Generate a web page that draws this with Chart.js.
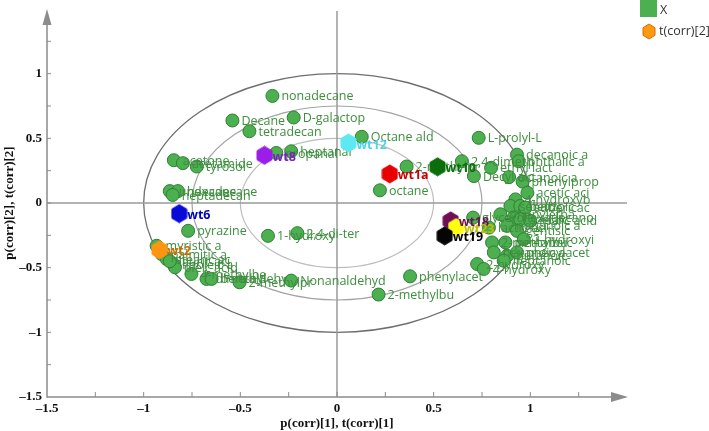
<!DOCTYPE html>
<html lang="en">
  <head>
    <meta charset="UTF-8" />
    <title>OPLS biplot</title>
    <style>
      html, body { margin: 0; padding: 0; background: #fff; }
      #wrap { width: 709px; height: 431px; }
    </style>
  </head>
  <body>
    <div id="wrap"><canvas id="biplot" width="709" height="431"></canvas></div>

    <script src="https://cdn.jsdelivr.net/npm/chart.js"></script>
    <script>
      // variables (green circles), p(corr)[1] / p(corr)[2]
      const varNames = [
        'nonadecane', 'Decane', 'D-galactop', 'tetradecan', 'Octane ald', 'L-prolyl-L',
        'propanal', 'heptanal', 'acetone', 'acetamide', 'tyrosol',
        'undecane', 'hexadecane', 'heptadecan', 'pyrazine', '1-hydroxy', '2,4-di-ter',
        'octane', '2-methylpr', '2,4-dimeth', 'Decyl alc', 'phenylacet', '2-methylbu', 'glycerol',
        'decanoic a', 'phthalic a', 'ethyl lact', 'octanoic a', 'phenylprop', 'acetic aci',
        '4-hydroxyb', 'sebacic', 'benzoic', 'subericac', 'phenyletha', 'hexadecano',
        'azelaic', 'malic acid', 'nonanoic a', 'gentisic', 'lactic aci', '2-methylbu',
        'pentanoic', '2-hydroxyi', 'hexanoic a', 'butanoic', 'phenylacet', 'heptanoic',
        '2-hydroxy', '4-hydroxy',
        'myristic a', 'palmitic a', 'stearic ac', 'linoleic a', 'oleic acid', 'lauric aci',
        '4-methylbe', 'dimethyl', 'benzaldehy', '2-methylpr', 'Nonanaldehyd'
      ];
      const varX = [
        -0.334, -0.541, -0.224, -0.453, 0.128, 0.733,
        -0.314, -0.237, -0.844, -0.797, -0.725,
        -0.865, -0.823, -0.85, -0.77, -0.357, -0.205,
        0.222, 0.36, 0.646, 0.708, 0.378, 0.215, 0.704,
        0.931, 0.94, 0.797, 0.89, 0.96, 0.985,
        0.923, 0.897, 0.948, 0.974, 0.845, 0.914,
        0.948, 1.0, 0.88, 0.931, 0.786, 0.802,
        0.871, 0.966, 0.811, 0.88, 0.931, 0.862,
        0.725, 0.759,
        -0.933, -0.907, -0.881, -0.847, -0.838, -0.865,
        -0.753, -0.675, -0.649, -0.504, -0.237
      ];
      const varY = [
        0.828, 0.638, 0.661, 0.555, 0.512, 0.504,
        0.387, 0.4, 0.331, 0.308, 0.282,
        0.092, 0.092, 0.062, -0.215, -0.254, -0.233,
        0.098, 0.282, 0.323, 0.208, -0.567, -0.708, -0.113,
        0.374, 0.323, 0.272, 0.2, 0.165, 0.079,
        0.028, -0.023, -0.023, -0.036, -0.087, -0.113,
        -0.126, -0.138, -0.177, -0.215, -0.19, -0.305,
        -0.305, -0.28, -0.382, -0.408, -0.382, -0.446,
        -0.472, -0.51,
        -0.331, -0.395, -0.433, -0.472, -0.497, -0.45,
        -0.549, -0.587, -0.587, -0.613, -0.6
      ];

      // observations (hexagons), t(corr)[1] / t(corr)[2]
      const sampleNames = ['wt8', 'wt12', 'wt1a', 'wt10', 'wt6', 'wt2', 'wt18', 'wt23', 'wt19'];
      const sampleX = [-0.375, 0.059, 0.273, 0.52, -0.816, -0.918, 0.588, 0.616, 0.557];
      const sampleY = [0.369, 0.464, 0.225, 0.28, -0.082, -0.362, -0.138, -0.19, -0.254];

      // styling per observation
      const sampleFill = ['#9a1ee8', '#5ee8f2', '#e80000', '#0b6e0b', '#0a0ad8', '#ff9410', '#6e0f55', '#ffff10', '#050505'];
      const sampleText = ['#7d1fc4', '#4fd2e6', '#c80000', '#0b6e0b', '#0000c0', '#c86e00', '#6e0f55', '#c0c000', '#000000'];

      const GREEN_TEXT = '#3e8e3e';
      const LABEL_FONT = '12.5px "Open Sans", "Noto Sans", sans-serif';
      const AXIS_FONT = { family: '"Liberation Serif", "DejaVu Serif", serif', size: 13, weight: 'bold' };

      function hexCanvas(fill, stroke, w, h) {
        const c = document.createElement('canvas');
        c.width = w + 2;
        c.height = h + 2;
        const g = c.getContext('2d');
        const cx = c.width / 2, cy = c.height / 2;
        g.beginPath();
        for (let k = 0; k < 6; k++) {
          const a = -Math.PI / 2 + k * Math.PI / 3;
          const px = cx + (w / 2) * Math.cos(a) / Math.cos(Math.PI / 6);
          const py = cy + (h / 2) * Math.sin(a);
          if (k === 0) g.moveTo(Math.min(Math.max(px, 1), w + 1), py);
          else g.lineTo(Math.min(Math.max(px, 1), w + 1), py);
        }
        g.closePath();
        g.fillStyle = fill;
        g.fill();
        g.strokeStyle = stroke;
        g.lineWidth = 1;
        g.stroke();
        return c;
      }

      const hexStyles = sampleFill.map((f) => hexCanvas(f, f, 15, 18));

      const frame = {
        id: 'frame',
        beforeDatasetsDraw(chart) {
          const { ctx, chartArea: a } = chart;
          const xs = chart.scales.x, ys = chart.scales.y;
          const x0 = xs.getPixelForValue(0), y0 = ys.getPixelForValue(0);
          ctx.save();
          // correlation ellipses r = 1, 0.75, 0.5
          [[1, '#6e6e6e', 1.3], [0.75, '#a3a3a3', 1.2], [0.5, '#bdbdbd', 1.2]].forEach(([r, col, lw]) => {
            const rx = xs.getPixelForValue(r) - x0;
            const ry = y0 - ys.getPixelForValue(r);
            ctx.beginPath();
            ctx.ellipse(x0, y0, rx, ry, 0, 0, Math.PI * 2);
            ctx.strokeStyle = col;
            ctx.lineWidth = lw;
            ctx.stroke();
          });
          // centre lines
          ctx.strokeStyle = '#9a9a9a';
          ctx.lineWidth = 1.5;
          ctx.beginPath();
          ctx.moveTo(x0, a.bottom);
          ctx.lineTo(x0, a.top + 2);
          ctx.moveTo(a.left, y0);
          ctx.lineTo(a.right, y0);
          ctx.stroke();
          // main axes with arrows
          ctx.strokeStyle = '#8c8c8c';
          ctx.fillStyle = '#8c8c8c';
          ctx.lineWidth = 1.5;
          ctx.beginPath();
          ctx.moveTo(a.left, a.top + 14);
          ctx.lineTo(a.left, a.bottom);
          ctx.lineTo(a.right - 15, a.bottom);
          ctx.stroke();
          ctx.beginPath();
          ctx.moveTo(a.left, a.top);
          ctx.lineTo(a.left - 4.5, a.top + 16);
          ctx.lineTo(a.left + 4.5, a.top + 16);
          ctx.closePath();
          ctx.fill();
          ctx.beginPath();
          ctx.moveTo(a.right + 1, a.bottom);
          ctx.lineTo(a.right - 16, a.bottom - 5);
          ctx.lineTo(a.right - 16, a.bottom + 5);
          ctx.closePath();
          ctx.fill();
          // inward ticks
          ctx.lineWidth = 1;
          ctx.beginPath();
          for (let v = -1.25; v < 1.4; v += 0.25) {
            const px = xs.getPixelForValue(v);
            ctx.moveTo(px, a.bottom);
            ctx.lineTo(px, a.bottom - 5);
            const py = ys.getPixelForValue(v);
            ctx.moveTo(a.left, py);
            ctx.lineTo(a.left + 4, py);
          }
          ctx.stroke();
          ctx.restore();
        },
        afterDatasetDraw(chart, args) {
          const { ctx } = chart;
          const meta = args.meta;
          const ds = chart.data.datasets[args.index];
          ctx.save();
          ctx.textBaseline = 'middle';
          ctx.textAlign = 'left';
          meta.data.forEach((pt, i) => {
            if (ds.kind === 'var') {
              ctx.font = LABEL_FONT;
              ctx.fillStyle = GREEN_TEXT;
              ctx.fillText(varNames[i], pt.x + 9, pt.y + 1);
            } else {
              ctx.font = 'bold ' + LABEL_FONT;
              ctx.fillStyle = sampleText[i];
              ctx.fillText(sampleNames[i], pt.x + 8, pt.y + 2);
            }
          });
          ctx.restore();
        },
        afterDraw(chart) {
          const { ctx } = chart;
          ctx.save();
          ctx.fillStyle = '#4caf50';
          ctx.fillRect(640, -1, 17, 18);
          ctx.drawImage(hexCanvas('#ff9a10', '#d07000', 12, 15), 642, 23);
          ctx.fillStyle = '#333';
          ctx.font = LABEL_FONT;
          ctx.textBaseline = 'middle';
          ctx.fillText('X', 660, 10);
          ctx.fillText('t(corr)[2]', 659, 31);
          ctx.restore();
        },
      };

      const tickLabel = (v) => {
        const half = Math.round(v * 2);
        if (Math.abs(v * 2 - half) > 1e-6 || v > 1.4) return '';
        return String(half / 2).replace('-', '\u2013');
      };

      new Chart(document.getElementById('biplot').getContext('2d'), {
        type: 'scatter',
        data: {
          datasets: [
            {
              kind: 'sample',
              order: 1,
              data: sampleX.map((x, i) => ({ x, y: sampleY[i] })),
              pointStyle: hexStyles,
              pointRadius: 8,
              clip: false,
            },
            {
              kind: 'var',
              order: 2,
              data: varX.map((x, i) => ({ x, y: varY[i] })),
              backgroundColor: '#4caf50',
              borderColor: '#2f7f33',
              borderWidth: 1,
              pointRadius: 6.5,
              clip: false,
            },
          ],
        },
        options: {
          responsive: false,
          animation: false,
          events: [],
          layout: { padding: { left: 0, right: 82, top: 7, bottom: 0 } },
          plugins: { legend: { display: false }, tooltip: { enabled: false } },
          scales: {
            x: {
              type: 'linear',
              min: -1.5,
              max: 1.5,
              afterFit(s) { s.height = 34; s.paddingLeft = 0; s.paddingRight = 0; },
              grid: { display: false, drawTicks: false },
              border: { display: false },
              ticks: {
                stepSize: 0.25,
                autoSkip: false,
                maxRotation: 0,
                padding: 4,
                color: '#111',
                font: AXIS_FONT,
                callback: tickLabel,
              },
              title: {
                display: true,
                text: 'p(corr)[1], t(corr)[1]',
                color: '#111',
                font: AXIS_FONT,
                padding: { top: 0, bottom: 0 },
              },
            },
            y: {
              type: 'linear',
              min: -1.5,
              max: 1.5,
              afterFit(s) { s.width = 47; s.paddingTop = 0; s.paddingBottom = 0; },
              grid: { display: false, drawTicks: false },
              border: { display: false },
              ticks: {
                stepSize: 0.25,
                autoSkip: false,
                padding: 5,
                color: '#111',
                font: AXIS_FONT,
                callback: tickLabel,
              },
              title: {
                display: true,
                text: 'p(corr)[2], t(corr)[2]',
                color: '#111',
                font: AXIS_FONT,
                padding: { top: 2, bottom: 0 },
              },
            },
          },
        },
        plugins: [frame],
      });
    </script>
  </body>
</html>
